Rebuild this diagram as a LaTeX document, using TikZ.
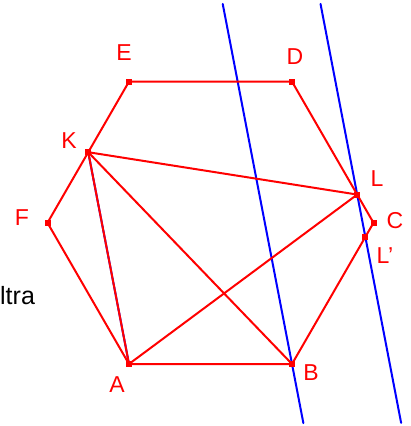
\documentclass[tikz,border=0pt]{standalone}
\usepackage{fontspec}
\setmainfont{Liberation Sans}
\usetikzlibrary{calc}

\begin{document}
\begin{tikzpicture}[x=1pt, y=-1pt, line join=round, line cap=round,
    redline/.style={draw=red, line width=2pt},
    blueline/.style={draw=blue, line width=2pt},
    lab/.style={text=red, inner sep=0pt, font=\fontsize{23}{27}\selectfont}]

    % Frame of the picture
    \useasboundingbox (0,0) rectangle (411,426);

    % Define the hexagon corners
    \coordinate (A) at (129,364);
    \coordinate (B) at (292,364);
    \coordinate (C) at (373.5,222.8);
    \coordinate (D) at (292,81.6);
    \coordinate (E) at (129,81.6);
    \coordinate (F) at (47.5,222.8);

    % Points on the sides (K midpoint of EF, L on DC, L' on BC)
    \coordinate (K) at ($(E)!0.5!(F)$);
    \coordinate (L) at ($(D)!0.8!(C)$);
    \coordinate (L') at ($(B)!0.9!(C)$);

    % Direction of KA, used for the two parallels
    \coordinate (u) at ($(A)-(K)$);
    \coordinate (P1) at ($(B)-1.7*(u)$);
    \coordinate (P2) at ($(B)+0.279*(u)$);
    \coordinate (Q1) at ($(L)-0.9*(u)$);
    \coordinate (Q2) at ($(L)+1.078*(u)$);

    % 1. Blue parallels
    \draw[blueline] (P1) -- (P2);
    \draw[blueline] (Q1) -- (Q2);
    \draw[blueline] (K) -- (A);

    % 2. Hexagon
    \draw[redline] (A) -- (B) -- (L') -- (C) -- (L) -- (D) -- (E) -- (K) -- (F) -- cycle;

    % 3. Diagonals from K and A
    \draw[redline] (K) -- (L);
    \draw[redline] (K) -- (B);
    \draw[redline] (K) -- (A);
    \draw[redline] (A) -- (L);

    % 4. Points
    \foreach \p in {A,B,C,D,E,F,K,L,L'}
        \fill[red] (\p) ++(-3,-3) rectangle ++(6,6);

    % 5. Labels
    \node[lab] (la) at (117,385) {A};
    \node[lab] (lb) at (311,373) {B};
    \node[lab] (lc) at (395,221) {C};
    \node[lab] (ld) at (295,57) {D};
    \node[lab] (le) at (124,53) {E};
    \node[lab] (lf) at (22,218) {F};
    \node[lab] (lk) at (69,141) {K};
    \node[lab] (ll) at (377,179) {L};
    \node[lab] (ll2) at (385,256) {L'};

    \node[anchor=base west, inner sep=0pt, font=\fontsize{25}{29}\selectfont] (txt) at (0,304) {ltra};

\end{tikzpicture}
\end{document}
